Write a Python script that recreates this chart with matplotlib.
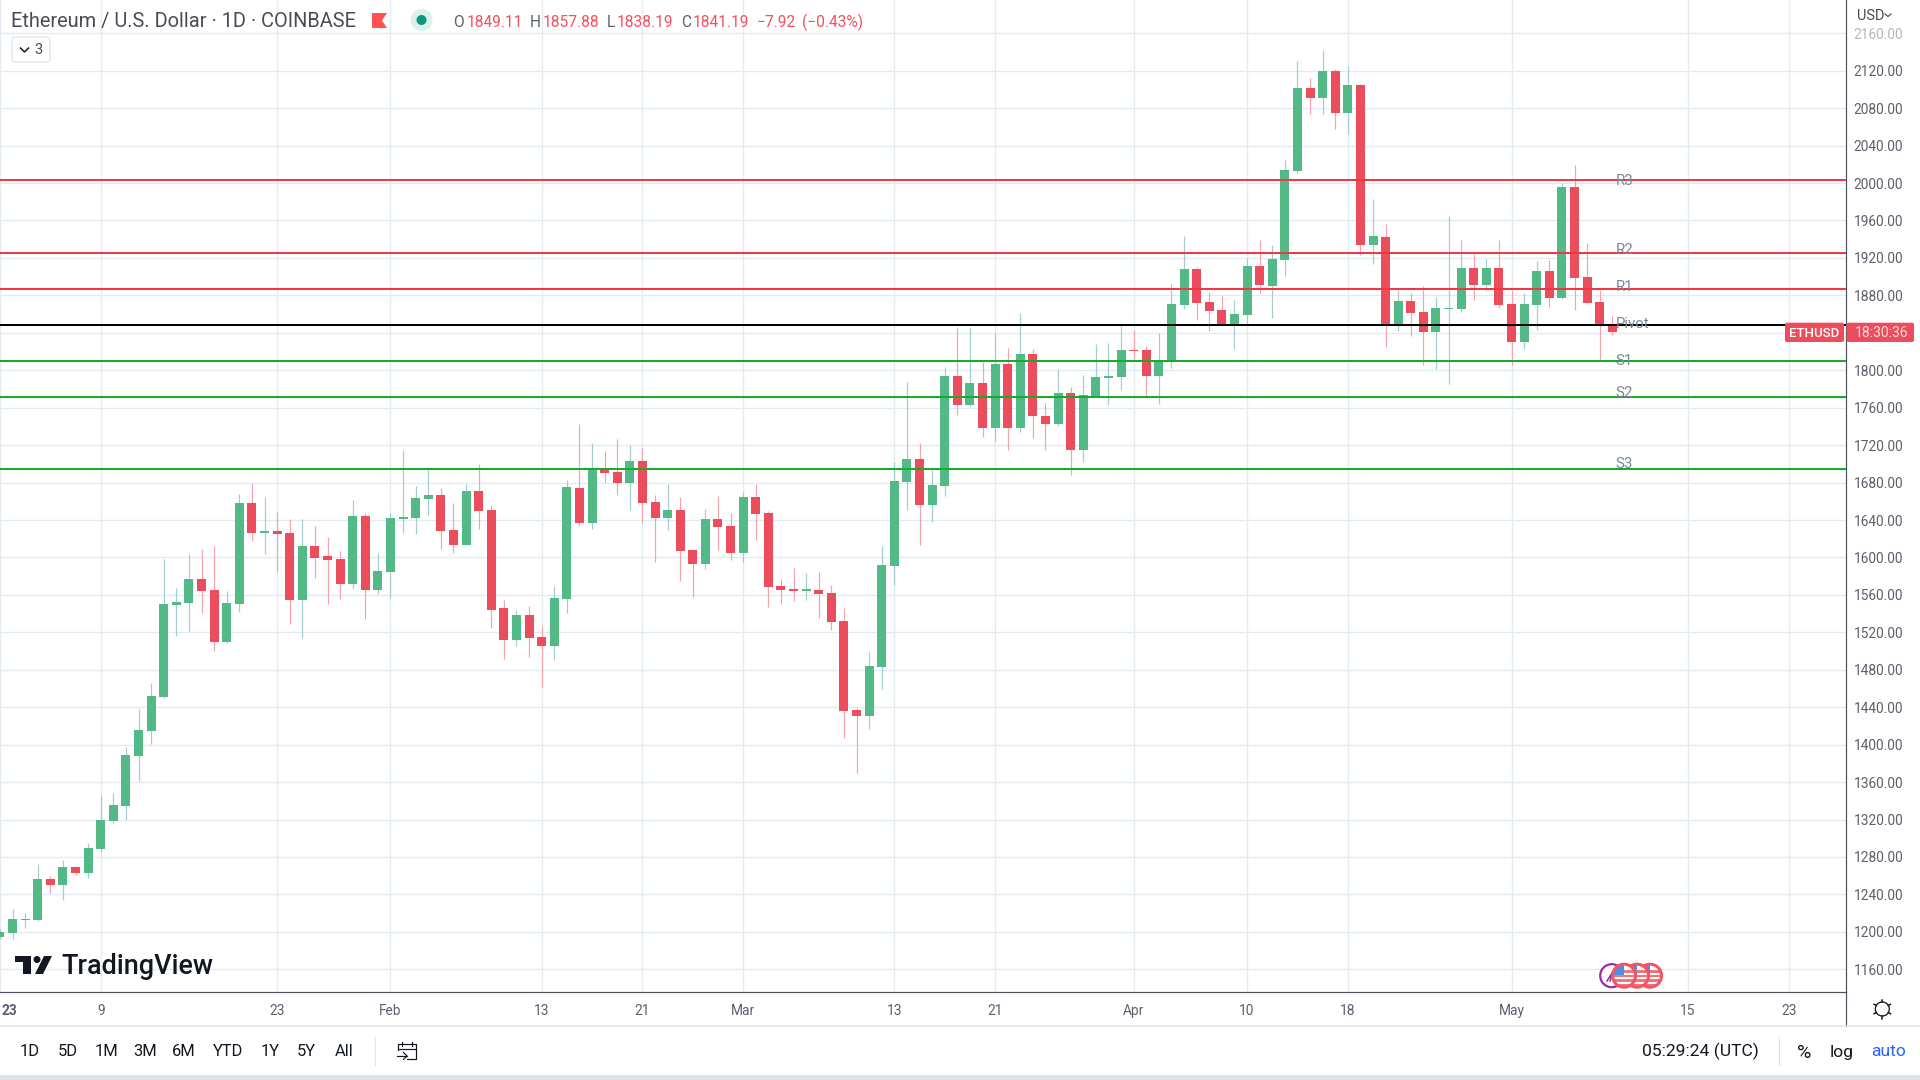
import matplotlib
matplotlib.use("Agg")
import matplotlib.pyplot as plt
import numpy as np
from matplotlib.patches import Rectangle, Circle, Polygon, FancyBboxPatch
from matplotlib.transforms import ScaledTranslation

plt.rcParams['font.family'] = ['Roboto', 'DejaVu Sans']

first_day = -8  # day index of the first candle, 0 = 9 Jan 2023

opens = [1195, 1198.7, 1212.6, 1213, 1256.4, 1250.2, 1269.3, 1263,
    1288.4, 1318.6, 1334.4, 1387.8, 1414.6, 1451, 1549.3, 1551.5, 1576.9, 1565.1,
    1509.5, 1550.4, 1658.2, 1626.2, 1628.4, 1626.2, 1554.4, 1612.2, 1601.5, 1598.2,
    1571.7, 1644.2, 1565.1, 1584.6, 1641.3, 1642.4, 1662.6, 1666.6, 1629.5, 1613.3,
    1671, 1650.8, 1546.1, 1511.9, 1538.6, 1515.1, 1505.5, 1555.7, 1674.3, 1636.9,
    1693.5, 1691.3, 1679.6, 1703.1, 1659.3, 1642.2, 1650.8, 1608, 1593, 1641.1,
    1633.7, 1604.8, 1664.6, 1647.6, 1569.6, 1566.4, 1564.2, 1565.3, 1562.1, 1532.2,
    1437.1, 1430.7, 1483, 1590.9, 1680.7, 1705.2, 1656.1, 1676.4, 1793.9, 1762.9,
    1786.4, 1738.4, 1806.7, 1738.4, 1817.4, 1751.2, 1742.6, 1775.7, 1714.9, 1771.5,
    1791.8, 1792.8, 1821.7, 1821.7, 1793.9, 1809.9, 1869.7, 1908.2, 1872.9, 1864.4,
    1848.3, 1859, 1911.4, 1890, 1917.8, 2012.9, 2101.5, 2090.8, 2119.7, 2074.8,
    2104.7, 1933.8, 1942.4, 1848.3, 1874, 1862.2, 1840.9, 1865.4, 1865.4, 1909.2,
    1891, 1909.2, 1870.8, 1830.2, 1869.7, 1906, 1877.2, 1995.8, 1899.6, 1872.9,
    1849.11]
closes = [1199.4, 1213.8, 1213.8, 1256.4, 1250.2, 1269.3, 1263, 1289.5,
    1319.7, 1335.5, 1388.9, 1415.7, 1452.2, 1550.4, 1552.6, 1576.9, 1564.4, 1509.5,
    1551.5, 1658.2, 1626.2, 1628.4, 1625.1, 1554.4, 1612.2, 1599.3, 1597.5, 1571.7,
    1644.2, 1565.1, 1585.7, 1642.4, 1643.1, 1663.7, 1666.6, 1628.4, 1613.3, 1671,
    1649.7, 1543.9, 1511.9, 1538.6, 1514, 1505.5, 1556.7, 1675.3, 1636.9, 1694.6,
    1690.3, 1679.6, 1703.1, 1658.2, 1642.2, 1650.8, 1606.9, 1593, 1641.1, 1632.6,
    1604.8, 1664.6, 1646.5, 1568.5, 1565.3, 1564.2, 1566.4, 1561, 1531.1, 1436,
    1430.7, 1484.1, 1592, 1681.7, 1705.2, 1656.1, 1677.5, 1793.9, 1762.9, 1786.4,
    1738.4, 1806.7, 1738.4, 1817.4, 1751.2, 1742.6, 1775.7, 1714.9, 1773.6, 1792.8,
    1793.9, 1821.7, 1820.6, 1793.9, 1810, 1870.8, 1908.2, 1871.8, 1863.3, 1848.3,
    1860.1, 1911.4, 1891, 1918.8, 2013.9, 2101.5, 2090.8, 2119.7, 2074.8, 2104.7,
    1933.8, 1943.4, 1848.3, 1874, 1861.2, 1840.9, 1866.5, 1866.5, 1909.2, 1891,
    1909.2, 1869.7, 1830.2, 1870.8, 1906, 1877.2, 1995.8, 1898.6, 1871.9, 1849.4,
    1841.19]
highs = [1203, 1224.4, 1220.4, 1272.6, 1259.7, 1276.7, 1270, 1295,
    1346.2, 1348.4, 1397.7, 1438.2, 1465.8, 1598.2, 1567.3, 1603.7, 1608.9, 1612.2,
    1564.4, 1667.7, 1679.5, 1664.4, 1648.6, 1641.3, 1641.3, 1633.5, 1621.7, 1607,
    1661.5, 1647.5, 1604.8, 1647.5, 1714.8, 1676.2, 1694.2, 1674.4, 1658.2, 1678.4,
    1699.7, 1656.1, 1554.6, 1543.9, 1548.2, 1526.8, 1569.6, 1682.8, 1742.6, 1722.3,
    1713.8, 1726.6, 1720.2, 1717, 1666.8, 1678.5, 1664.6, 1609.1, 1651.8, 1665.7,
    1647.6, 1670, 1678.5, 1649.7, 1577, 1588.8, 1583.4, 1584.5, 1570.6, 1546.1,
    1439.2, 1499, 1612.3, 1702, 1787.5, 1722.3, 1693.5, 1803.5, 1846.3, 1846.3,
    1808.9, 1839.8, 1823.8, 1861.2, 1822.8, 1765, 1801.4, 1782.2, 1795, 1828.1,
    1829.2, 1847.3, 1843, 1826, 1839.8, 1892.1, 1943.4, 1910.3, 1883.6, 1880.4,
    1875, 1919.9, 1939.1, 1933.8, 2024.6, 2130.4, 2112.2, 2142.1, 2121.8, 2125,
    2105.8, 1982.9, 1956.2, 1885.7, 1882.5, 1890, 1878.2, 1964.8, 1939.2, 1924.2,
    1918.9, 1939.2, 1885.7, 1882.5, 1916.7, 1917.8, 1999.7, 2019.3, 1936, 1885.7,
    1857.88]
lows = [1192, 1192.8, 1204.5, 1212, 1241, 1234.4, 1261.2, 1257.5,
    1285.8, 1316.8, 1319.7, 1361.3, 1400.6, 1450, 1516.2, 1521.3, 1540.8, 1500,
    1508.8, 1542, 1617.7, 1603.7, 1584.6, 1529, 1514, 1578, 1550.4, 1555.5,
    1566.2, 1534.2, 1561, 1556.6, 1626.2, 1625.1, 1645.3, 1608.9, 1604.8, 1613,
    1630.6, 1524.7, 1491.6, 1505.5, 1493.7, 1461.7, 1490.5, 1540.7, 1633.7, 1630.5,
    1679.6, 1666.8, 1650.8, 1636.9, 1595.2, 1629.4, 1574.9, 1557.8, 1587.7, 1608,
    1597.3, 1595.2, 1618.7, 1547.1, 1550.3, 1553.5, 1554.6, 1535.4, 1522.6, 1407.2,
    1369.8, 1416.8, 1459.5, 1570.6, 1650.8, 1613.4, 1637.9, 1665.7, 1752.2, 1762,
    1728.7, 1724.5, 1714.9, 1734.1, 1727.7, 1714.9, 1740.5, 1688.1, 1702, 1771,
    1762.9, 1779, 1811, 1773.6, 1764, 1802.4, 1865.4, 1853.7, 1841.9, 1848,
    1822.7, 1848.3, 1882.5, 1855.8, 1900.7, 2010.7, 2073.7, 2073.7, 2057.7, 2052.4,
    1923.1, 1913.5, 1824.8, 1841.9, 1836.6, 1805.6, 1801.3, 1785.3, 1862.2, 1875.1,
    1884.7, 1866.5, 1805.6, 1822.7, 1843, 1867.6, 1876.1, 1864.4, 1870.8, 1811,
    1838.19]

level_names = ['R3', 'R2', 'R1', 'Pivot', 'S1', 'S2', 'S3']
level_values = [2003.3, 1925.3, 1886.8, 1848.3, 1809.9, 1771.4, 1694.6]
level_colors = ['#f23645', '#f23645', '#f23645', '#000000', '#17ab2a', '#17ab2a', '#17ab2a']
level_label_shift = [-1, 3, 2, 1, 0, 4, 5]

x_tick_days = [-8, 0, 14, 23, 35, 43, 51, 63, 71, 82, 91, 99, 112, 126, 134]
x_tick_labels = ['23', '9', '23', 'Feb', '13', '21', 'Mar', '13', '21', 'Apr', '10', '18', 'May', '15', '23']
y_ticks = list(range(1160, 2161, 40))
hidden_y_label = 1840  # covered by the last-price tag in the reference

GREEN, RED = '#53b987', '#eb4d5c'
GREEN_WICK, RED_WICK = '#a3cdcf', '#f6a3ad'
GRID = '#e1ecf2'
AXIS = '#50535e'
LABEL = '#5d606b'
px = 0.72  # points per pixel at dpi 100

W, H = 1920, 1080
fig = plt.figure(figsize=(W / 100, H / 100), dpi=100, facecolor='white')
AX_R, AX_B = 1845.7, 992.3
ax = fig.add_axes([0, 1 - AX_B / H, AX_R / W, AX_B / H])
ppd, ppp = 12.607, 0.936
ax.set_xlim(-99.3 / ppd, (AX_R - 99.3) / ppd)
ax.set_ylim(1160 - (AX_B - 969.3) / ppp, 1160 + 969.3 / ppp)

ax.set_axisbelow(True)
ax.set_xticks(x_tick_days)
ax.set_xticklabels(x_tick_labels)
ax.set_yticks(y_ticks)
ax.set_yticklabels(['' if v == hidden_y_label else f'{v:.2f}' for v in y_ticks])
ax.yaxis.tick_right()
ax.grid(True, color=GRID, lw=1.4 * px, zorder=0)
ax.tick_params(axis='both', length=0, labelsize=13.8 * px, labelcolor=LABEL)
ax.tick_params(axis='x', pad=12 * px)
ax.tick_params(axis='y', pad=8 * px)
for s in ('top', 'left'):
    ax.spines[s].set_visible(False)
for s in ('right', 'bottom'):
    ax.spines[s].set_color(AXIS)
    ax.spines[s].set_linewidth(1.2 * px)
first_lab = ax.get_xticklabels()[0]
first_lab.set_fontweight('bold')
first_lab.set_ha('left')
first_lab.set_transform(first_lab.get_transform() + ScaledTranslation(2 / 100, 0, fig.dpi_scale_trans))
ax.get_yticklabels()[-1].set_color('#b4b6bc')

o, h, l, c = map(np.array, (opens, highs, lows, closes))
days = first_day + np.arange(len(o))
up = c >= o
ax.vlines(days[up], l[up], h[up], color=GREEN_WICK, lw=1.2 * px, zorder=2)
ax.vlines(days[~up], l[~up], h[~up], color=RED_WICK, lw=1.2 * px, zorder=2)
bw = 9 / ppd
ax.bar(days[up], (c - o)[up], bottom=o[up], width=bw, color=GREEN, zorder=3)
ax.bar(days[~up], (c - o)[~up], bottom=o[~up], width=bw, color=RED, zorder=3)

for name, val, col, sh in zip(level_names, level_values, level_colors, level_label_shift):
    ax.axhline(val, color=col, lw=2 * px, zorder=4)
    ax.annotate(name, (120.28, val), xytext=(0, sh), textcoords='offset pixels',
                ha='left', va='center', fontsize=15 * px, color='#7a8797', zorder=5)

# ------ interface furniture, in pixel coordinates ------
ui = fig.add_axes([0, 0, 1, 1], zorder=10)
ui.set_xlim(0, W)
ui.set_ylim(H, 0)
ui.axis('off')

# right axis extension, bottom bands
ui.plot([AX_R, AX_R], [AX_B, 1026], color=AXIS, lw=1.2 * px)
ui.plot([0, W], [1026, 1026], color='#e0e3eb', lw=1.5 * px)
ui.add_patch(Rectangle((0, 1075), W, 5, color='#e0e3eb', lw=0))

# header
ui.text(11, 27, 'Ethereum / U.S. Dollar · 1D · COINBASE', fontsize=20 * px, color='#4a4d57', va='baseline')
ui.add_patch(Polygon([(372, 13), (387, 13), (382, 20.5), (387, 28), (372, 28)], color='#ff5252', lw=0))
ui.add_patch(Circle((421.5, 20), 11, color='#dcf1ec', lw=0))
ui.add_patch(Circle((421.5, 20), 5, color='#089981', lw=0))
GREY, VAL = '#5d606b', '#f4505f'
for x, t, col in [(453, 'O', GREY), (467, '1849.11', VAL), (530, 'H', GREY), (542.5, '1857.88', VAL),
                  (607, 'L', GREY), (617, '1838.19', VAL), (681, 'C', GREY), (692.5, '1841.19', VAL),
                  (757, '−7.92', VAL), (802, '(−0.43%)', VAL)]:
    ui.text(x, 27, t, fontsize=15.5 * px, color=col, va='baseline')

# collapsed indicators button
ui.add_patch(FancyBboxPatch((12, 37), 38, 25, boxstyle='round,pad=0,rounding_size=3',
                            fc='white', ec='#dfe2e8', lw=1.2 * px))
ui.plot([20.5, 24.5, 28.5], [48, 52, 48], color='#131722', lw=1.5 * px)
ui.text(38, 50, '3', fontsize=14.5 * px, color='#4a4d57', ha='center', va='center')

# USD selector
ui.text(1857.5, 20.5, 'USD', fontsize=14.5 * px, color='#4a4d57', va='baseline')
ui.plot([1885, 1888, 1891], [14, 16.5, 14], color='#4a4d57', lw=1.2 * px)

# last price tag
ui.add_patch(FancyBboxPatch((1785, 322.7), 59, 19.3, boxstyle='round,pad=0,rounding_size=2', color=RED, lw=0))
ui.add_patch(FancyBboxPatch((1846.5, 322.7), 67.5, 19.3, boxstyle='round,pad=0,rounding_size=2', color=RED, lw=0))
ui.text(1814.5, 337.3, 'ETHUSD', fontsize=13.3 * px, color='white', ha='center', va='baseline', fontweight='medium')
ui.text(1881.5, 337.3, '18:30:36', fontsize=14 * px, color='#fcd7db', ha='center', va='baseline')

# TradingView logo
ui.add_patch(Polygon([(15, 956), (31, 956), (31, 974), (22.5, 974), (22.5, 961.5), (15, 961.5)], color='#131722', lw=0))
ui.add_patch(Circle((37, 959.5), 3.5, color='#131722', lw=0))
ui.add_patch(Polygon([(44, 956), (52, 956), (43, 974), (35, 974)], color='#131722', lw=0))
ui.text(61.5, 974, 'TradingView', fontsize=27 * px, color='#131722', va='baseline', fontweight='medium')

# economic event markers
ui.add_patch(Circle((1611.7, 975.7), 11.5, fc='white', ec='#9c27b0', lw=2.2 * px))
ui.plot([1607, 1612, 1610], [981, 973, 981], color='#9c27b0', lw=1.5 * px)
for k, cx in enumerate((1650, 1637, 1624)):
    z = 3 + k
    ui.add_patch(Circle((cx, 975.7), 11.5, fc='white', ec='none', zorder=z))
    clip = Circle((cx, 975.7), 10.5, transform=ui.transData)
    for dy in (-5.5, -1, 3.5, 8):
        st = ui.add_patch(Rectangle((cx - 12, 975.7 + dy), 24, 2.4, color='#f7727d', lw=0, zorder=z + 0.1))
        st.set_clip_path(clip)
    can = ui.add_patch(Rectangle((cx - 11, 965), 11, 9.5, color='#4a90e2', lw=0, zorder=z + 0.2))
    can.set_clip_path(clip)
    ui.add_patch(Circle((cx, 975.7), 11.5, fc='none', ec='#f7525f', lw=3 * px, zorder=z + 0.3))

# range buttons
for x, t in [(30, '1D'), (67.7, '5D'), (106, '1M'), (145, '3M'), (184, '6M'), (227.7, 'YTD'),
             (270, '1Y'), (306.7, '5Y'), (344, 'All')]:
    ui.text(x, 1056.5, t, fontsize=16.5 * px, color='#131722', ha='center', va='baseline')
ui.plot([375.3, 375.3], [1037, 1065], color='#e0e3eb', lw=1.2 * px)
ui.plot([1779.3, 1779.3], [1037, 1065], color='#e0e3eb', lw=1.2 * px)

# go-to-date icon
ui.plot([398, 398, 416, 416, 407], [1050, 1044, 1044, 1059, 1059], color='#131722', lw=1.2 * px)
ui.plot([398, 416], [1048.5, 1048.5], color='#131722', lw=1.2 * px)
ui.plot([402, 402], [1042, 1046], color='#131722', lw=1.2 * px)
ui.plot([412, 412], [1042, 1046], color='#131722', lw=1.2 * px)
ui.plot([396.5, 407], [1056, 1056], color='#131722', lw=1.2 * px)
ui.plot([403.5, 407, 403.5], [1052.5, 1056, 1059.5], color='#131722', lw=1.2 * px)

# clock and scale buttons
ui.text(1700, 1056.5, '05:29:24 (UTC)', fontsize=17.5 * px, color='#131722', ha='center', va='baseline')
ui.text(1804, 1057.5, '%', fontsize=19.5 * px, color='#131722', ha='center', va='baseline')
ui.text(1842, 1056.5, 'log', fontsize=17.5 * px, color='#131722', ha='center', va='baseline')
ui.text(1888.7, 1056.5, 'auto', fontsize=17.5 * px, color='#2962ff', ha='center', va='baseline')

# settings gear
ui.add_patch(Circle((1882.3, 1009), 7, fc='white', ec='#131722', lw=1.3 * px))
for ang in np.arange(0, 360, 60):
    a = np.deg2rad(ang + 30)
    ui.plot([1882.3 + 7 * np.cos(a), 1882.3 + 9.5 * np.cos(a)],
            [1009 + 7 * np.sin(a), 1009 + 9.5 * np.sin(a)], color='#131722', lw=1.5 * px)

fig.savefig('out.png', dpi=100)
